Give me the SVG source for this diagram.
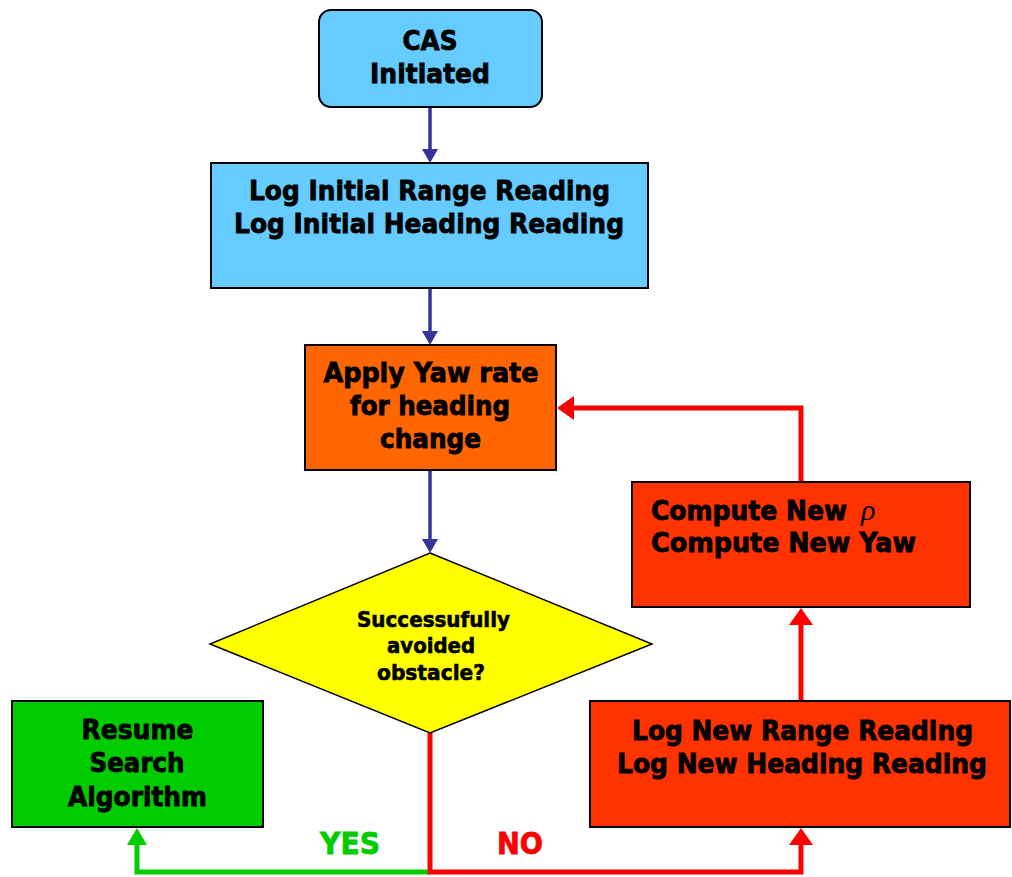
<svg xmlns="http://www.w3.org/2000/svg" width="1012" height="877" viewBox="0 0 1012 877">
<style>
.box{stroke:#000;stroke-width:2}
.t{font-family:"DejaVu Sans",Verdana,sans-serif;font-weight:bold;font-size:26px;fill:#000;stroke:#000;stroke-width:0.8;text-anchor:middle}
.tl{text-anchor:start}
.ts{font-size:21px;stroke-width:0.6}
.lbl{font-family:"DejaVu Sans",Verdana,sans-serif;font-weight:bold;font-size:30px;text-anchor:middle;stroke-width:0.8}
.blue{fill:none;stroke:#333399;stroke-width:3.5}
.red{fill:none;stroke:#FF0000;stroke-width:5}
.green{fill:none;stroke:#00CC00;stroke-width:5}
</style>
<defs>
<marker id="ab" markerUnits="userSpaceOnUse" markerWidth="14" markerHeight="16" refX="0" refY="8" orient="auto"><path d="M0,0 L14,8 L0,16 z" fill="#333399"/></marker>
<marker id="ar" markerUnits="userSpaceOnUse" markerWidth="18" markerHeight="24" refX="0" refY="12" orient="auto"><path d="M0,0 L17,12 L0,24 z" fill="#FF0000"/></marker>
<marker id="ag" markerUnits="userSpaceOnUse" markerWidth="18" markerHeight="20" refX="0" refY="10" orient="auto"><path d="M0,0 L17,10 L0,20 z" fill="#00CC00"/></marker>
</defs>
<rect width="1012" height="877" fill="#fff"/>
<g id="connectors">
<path class="blue" d="M430,107 L430,149" marker-end="url(#ab)"/>
<path class="blue" d="M430,288 L430,331" marker-end="url(#ab)"/>
<path class="blue" d="M430,470 L430,539" marker-end="url(#ab)"/>
<path class="red" d="M801,482 L801,408 L574,408" marker-end="url(#ar)"/>
<path class="red" d="M801,701 L801,625" marker-end="url(#ar)"/>
<path class="green" d="M430,872 L137,872 L137,845" marker-end="url(#ag)"/>
<path class="red" d="M430,733 L430,872 L801,872 L801,845" marker-end="url(#ar)"/>
<text class="lbl" x="350" y="854" fill="#00CC00" stroke="#00CC00" textLength="60" lengthAdjust="spacingAndGlyphs">YES</text>
<text class="lbl" x="520" y="854" fill="#FF0000" stroke="#FF0000" textLength="46" lengthAdjust="spacingAndGlyphs">NO</text>
</g>
<g id="cas">
<rect class="box" x="319" y="10" width="223" height="97" rx="12" fill="#66CCFF"/>
<text class="t" x="430" y="50" textLength="55" lengthAdjust="spacingAndGlyphs">CAS</text>
<text class="t" x="430" y="83" textLength="120" lengthAdjust="spacingAndGlyphs">Initiated</text>
</g>
<g id="log-initial">
<rect class="box" x="211" y="163" width="437" height="125" fill="#66CCFF"/>
<text class="t" x="429.5" y="200" textLength="361" lengthAdjust="spacingAndGlyphs">Log Initial Range Reading</text>
<text class="t" x="429" y="233" textLength="390" lengthAdjust="spacingAndGlyphs">Log Initial Heading Reading</text>
</g>
<g id="apply-yaw">
<rect class="box" x="305" y="345" width="251" height="125" fill="#FF6600"/>
<text class="t" x="431" y="382" textLength="215" lengthAdjust="spacingAndGlyphs">Apply Yaw rate</text>
<text class="t" x="430" y="415" textLength="160" lengthAdjust="spacingAndGlyphs">for heading</text>
<text class="t" x="430.5" y="448" textLength="101" lengthAdjust="spacingAndGlyphs">change</text>
</g>
<g id="decision">
<polygon points="430,553 652,644 430,733 210,644" fill="#FFFF00" stroke="#000" stroke-width="1.5"/>
<text class="t ts" x="433.5" y="627" textLength="153" lengthAdjust="spacingAndGlyphs">Successufully</text>
<text class="t ts" x="431" y="653" textLength="88" lengthAdjust="spacingAndGlyphs">avoided</text>
<text class="t ts" x="431" y="680" textLength="108" lengthAdjust="spacingAndGlyphs">obstacle?</text>
</g>
<g id="compute">
<rect class="box" x="632" y="482" width="338" height="125" fill="#FF3300"/>
<text class="t tl" x="651" y="520" textLength="196" lengthAdjust="spacingAndGlyphs">Compute New</text>
<text x="861" y="520" font-family="'Liberation Serif',serif" font-style="italic" font-size="30" fill="#000">ρ</text>
<text class="t tl" x="651" y="552" textLength="265" lengthAdjust="spacingAndGlyphs">Compute New Yaw</text>
</g>
<g id="resume">
<rect class="box" x="12" y="701" width="251" height="126" fill="#00CC00"/>
<text class="t" x="137.5" y="739" textLength="112" lengthAdjust="spacingAndGlyphs">Resume</text>
<text class="t" x="137" y="772" textLength="95" lengthAdjust="spacingAndGlyphs">Search</text>
<text class="t" x="137.5" y="806" textLength="139" lengthAdjust="spacingAndGlyphs">Algorithm</text>
</g>
<g id="log-new">
<rect class="box" x="590" y="701" width="420" height="126" fill="#FF3300"/>
<text class="t" x="802.5" y="740" textLength="341" lengthAdjust="spacingAndGlyphs">Log New Range Reading</text>
<text class="t" x="802" y="773" textLength="370" lengthAdjust="spacingAndGlyphs">Log New Heading Reading</text>
</g>
</svg>
